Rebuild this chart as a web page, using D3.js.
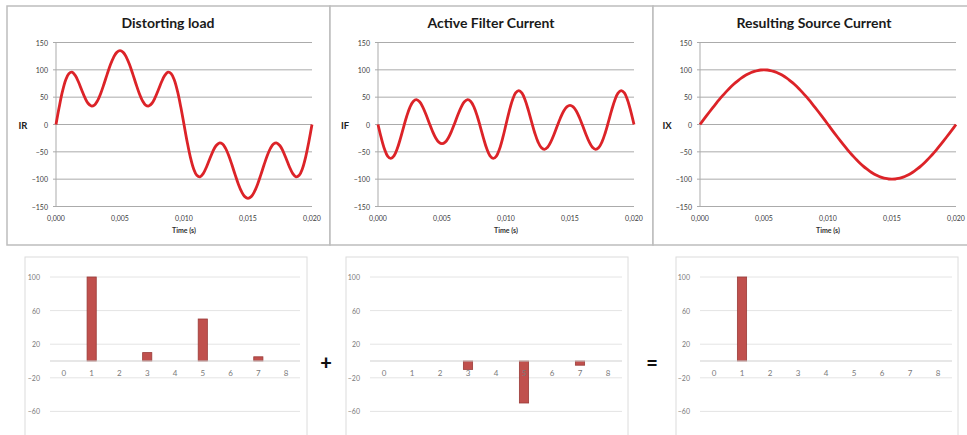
<!DOCTYPE html>
<html>
<head>
<meta charset="utf-8">
<script src="https://cdn.jsdelivr.net/npm/d3@7/dist/d3.min.js"></script>
<style>
  html, body { margin: 0; padding: 0; background: #ffffff; }
  svg { display: block; font-family: Lato, "Open Sans", "DejaVu Sans", sans-serif; }
</style>
</head>
<body>
<svg id="chart" width="967" height="435"></svg>
<script>
// Sample times over one 50 Hz period (s)
const timeSamples = [
  0.00000, 0.00025, 0.00050, 0.00075, 0.00100, 0.00125, 0.00150, 0.00175, 0.00200, 0.00225,
  0.00250, 0.00275, 0.00300, 0.00325, 0.00350, 0.00375, 0.00400, 0.00425, 0.00450, 0.00475,
  0.00500, 0.00525, 0.00550, 0.00575, 0.00600, 0.00625, 0.00650, 0.00675, 0.00700, 0.00725,
  0.00750, 0.00775, 0.00800, 0.00825, 0.00850, 0.00875, 0.00900, 0.00925, 0.00950, 0.00975,
  0.01000, 0.01025, 0.01050, 0.01075, 0.01100, 0.01125, 0.01150, 0.01175, 0.01200, 0.01225,
  0.01250, 0.01275, 0.01300, 0.01325, 0.01350, 0.01375, 0.01400, 0.01425, 0.01450, 0.01475,
  0.01500, 0.01525, 0.01550, 0.01575, 0.01600, 0.01625, 0.01650, 0.01675, 0.01700, 0.01725,
  0.01750, 0.01775, 0.01800, 0.01825, 0.01850, 0.01875, 0.01900, 0.01925, 0.01950, 0.01975,
  0.02000
];

// Load current IR
const loadCurrent = [
  0, 31.93, 59.99, 81.01, 93.04, 95.62, 89.85, 78.11, 63.54, 49.47,
  38.89, 33.90, 35.54, 43.65, 57.12, 74.05, 92.17, 109.16, 122.95, 131.90,
  135.00, 131.90, 122.95, 109.16, 92.17, 74.05, 57.12, 43.65, 35.54, 33.90,
  38.89, 49.47, 63.54, 78.11, 89.85, 95.62, 93.04, 81.01, 59.99, 31.93,
  0, -31.93, -59.99, -81.01, -93.04, -95.62, -89.85, -78.11, -63.54, -49.47,
  -38.89, -33.90, -35.54, -43.65, -57.12, -74.05, -92.17, -109.16, -122.95, -131.90,
  -135.00, -131.90, -122.95, -109.16, -92.17, -74.05, -57.12, -43.65, -35.54, -33.90,
  -38.89, -49.47, -63.54, -78.11, -89.85, -95.62, -93.04, -81.01, -59.99, -31.93,
  0
];

// Active filter current IF
const filterCurrent = [
  0, -24.08, -44.35, -57.67, -62.14, -57.35, -44.45, -25.86, -4.76, 15.47,
  31.82, 42.14, 45.37, 41.61, 31.98, 18.34, 2.94, -11.92, -24.18, -32.21,
  -35.00, -32.21, -24.18, -11.92, 2.94, 18.34, 31.98, 41.61, 45.37, 42.14,
  31.82, 15.47, -4.76, -25.86, -44.45, -57.35, -62.14, -57.67, -44.35, -24.08,
  0, 24.08, 44.35, 57.67, 62.14, 57.35, 44.45, 25.86, 4.76, -15.47,
  -31.82, -42.14, -45.37, -41.61, -31.98, -18.34, -2.94, 11.92, 24.18, 32.21,
  35.00, 32.21, 24.18, 11.92, -2.94, -18.34, -31.98, -41.61, -45.37, -42.14,
  -31.82, -15.47, 4.76, 25.86, 44.45, 57.35, 62.14, 57.67, 44.35, 24.08,
  0
];

// Resulting source current IX
const sourceCurrent = [
  0, 7.85, 15.64, 23.34, 30.90, 38.27, 45.40, 52.25, 58.78, 64.94,
  70.71, 76.04, 80.90, 85.26, 89.10, 92.39, 95.11, 97.24, 98.77, 99.69,
  100.00, 99.69, 98.77, 97.24, 95.11, 92.39, 89.10, 85.26, 80.90, 76.04,
  70.71, 64.94, 58.78, 52.25, 45.40, 38.27, 30.90, 23.34, 15.64, 7.85,
  0, -7.85, -15.64, -23.34, -30.90, -38.27, -45.40, -52.25, -58.78, -64.94,
  -70.71, -76.04, -80.90, -85.26, -89.10, -92.39, -95.11, -97.24, -98.77, -99.69,
  -100.00, -99.69, -98.77, -97.24, -95.11, -92.39, -89.10, -85.26, -80.90, -76.04,
  -70.71, -64.94, -58.78, -52.25, -45.40, -38.27, -30.90, -23.34, -15.64, -7.85,
  0
];

const waveTitles = ["Distorting load", "Active Filter Current", "Resulting Source Current"];
const waveLabels = ["IR", "IF", "IX"];
const timeTicks = [0, 0.005, 0.010, 0.015, 0.020];
const currentTicks = [-150, -100, -50, 0, 50, 100, 150];

// Harmonic spectra (amplitude per harmonic order)
const harmonicOrders = ["0", "1", "2", "3", "4", "5", "6", "7", "8"];
const loadSpectrum   = [0, 100, 0, 10, 0, 50, 0, 5, 0];
const filterSpectrum = [0, 0, 0, -10, 0, -50, 0, -5, 0];
const sourceSpectrum = [0, 100, 0, 0, 0, 0, 0, 0, 0];
const spectrumTicks = [-60, -20, 20, 60, 100];
const operators = ["+", "="];

const svg = d3.select("#chart");
const commaLocale = d3.formatLocale({ decimal: ",", thousands: ".", grouping: [3], currency: ["", ""], minus: "-" });
const fmtTime = commaLocale.format(".3f");

// ---------- top row: waveforms ----------
const waves = [loadCurrent, filterCurrent, sourceCurrent];
const panelLeft = [7, 330, 653];
const panelW = 323;
const plotLeft = [56, 378, 700];
const plotW = 256;
const y = d3.scaleLinear().domain([-150, 150]).range([206.5, 42.5]);

waves.forEach((vals, i) => {
  const g = svg.append("g");
  g.append("rect")
    .attr("x", panelLeft[i]).attr("y", 6)
    .attr("width", panelW).attr("height", 239)
    .attr("fill", "#ffffff").attr("stroke", "#bdbdbd").attr("stroke-width", 1.5);

  const x = d3.scaleLinear().domain([0, 0.02]).range([plotLeft[i], plotLeft[i] + plotW]);

  // horizontal gridlines with short left ticks
  g.selectAll("line.grid").data(currentTicks).join("line")
    .attr("x1", plotLeft[i] - 3).attr("x2", plotLeft[i] + plotW)
    .attr("y1", d => y(d)).attr("y2", d => y(d))
    .attr("stroke", "#ababab").attr("stroke-width", 1);
  // vertical axis line
  g.append("line")
    .attr("x1", plotLeft[i]).attr("x2", plotLeft[i])
    .attr("y1", y(150)).attr("y2", y(-150))
    .attr("stroke", "#ababab").attr("stroke-width", 1);

  g.selectAll("text.ytick").data(currentTicks).join("text")
    .attr("x", plotLeft[i] - 8).attr("y", d => y(d))
    .attr("text-anchor", "end").attr("dominant-baseline", "central")
    .attr("font-size", 7).attr("fill", "#404040")
    .text(d => d3.format("d")(d));

  g.selectAll("text.xtick").data(timeTicks).join("text")
    .attr("x", d => x(d)).attr("y", 218)
    .attr("text-anchor", "middle").attr("dominant-baseline", "central")
    .attr("font-size", 7).attr("fill", "#404040")
    .text(d => fmtTime(d));

  g.append("text")
    .attr("x", plotLeft[i] + plotW / 2).attr("y", 230)
    .attr("text-anchor", "middle").attr("dominant-baseline", "central")
    .attr("font-size", 7).attr("font-weight", "bold").attr("fill", "#303030")
    .text("Time (s)");

  g.append("text")
    .attr("x", plotLeft[i] - 33).attr("y", y(0) + 1)
    .attr("text-anchor", "middle").attr("dominant-baseline", "central")
    .attr("font-size", 9.5).attr("font-weight", "bold").attr("fill", "#202020")
    .text(waveLabels[i]);

  g.append("text")
    .attr("x", panelLeft[i] + panelW / 2 - 0.5).attr("y", 28)
    .attr("text-anchor", "middle")
    .attr("font-size", 14).attr("font-weight", "bold").attr("fill", "#1a1a1a")
    .text(waveTitles[i]);

  const line = d3.line()
    .x((d, k) => x(timeSamples[k]))
    .y(d => y(d))
    .curve(d3.curveCatmullRom.alpha(0.5));
  g.append("path")
    .attr("d", line(vals))
    .attr("fill", "none").attr("stroke", "#dc2328").attr("stroke-width", 2.8)
    .attr("stroke-linejoin", "round");
});

// ---------- bottom row: harmonic spectra ----------
const spectra = [loadSpectrum, filterSpectrum, sourceSpectrum];
const frameLeft = [25, 346, 676];
const frameW = 282;
const gridRange = [[50, 300], [370, 622], [700, 952]];
const yb = d3.scaleLinear().domain([-100, 100]).range([445, 277]);

spectra.forEach((vals, i) => {
  const g = svg.append("g");
  g.append("rect")
    .attr("x", frameLeft[i]).attr("y", 257)
    .attr("width", frameW).attr("height", 200)
    .attr("fill", "#ffffff").attr("stroke", "#dcdcdc").attr("stroke-width", 1);

  const xb = d3.scaleBand().domain(harmonicOrders).range(gridRange[i])
    .paddingInner(0.67).paddingOuter(0.335);

  g.selectAll("line.grid").data(spectrumTicks).join("line")
    .attr("x1", gridRange[i][0]).attr("x2", gridRange[i][1])
    .attr("y1", d => yb(d)).attr("y2", d => yb(d))
    .attr("stroke", "#e4e4e4").attr("stroke-width", 1);

  g.selectAll("text.ytick").data(spectrumTicks).join("text")
    .attr("x", gridRange[i][0] - 10).attr("y", d => yb(d))
    .attr("text-anchor", "end").attr("dominant-baseline", "central")
    .attr("font-size", 7).attr("fill", "#7a7a7a")
    .text(d => d3.format("d")(d));

  g.selectAll("rect.bar").data(vals).join("rect")
    .attr("x", (d, k) => xb(harmonicOrders[k]))
    .attr("width", xb.bandwidth())
    .attr("y", d => yb(Math.max(0, d)))
    .attr("height", d => Math.abs(yb(d) - yb(0)))
    .attr("fill", "#c0504d").attr("stroke", "#9a3b38").attr("stroke-width", 0.8);

  // zero axis
  g.append("line")
    .attr("x1", gridRange[i][0]).attr("x2", gridRange[i][1])
    .attr("y1", yb(0)).attr("y2", yb(0))
    .attr("stroke", "#cfcfcf").attr("stroke-width", 1);

  g.selectAll("text.cat").data(harmonicOrders).join("text")
    .attr("x", d => xb(d) + xb.bandwidth() / 2).attr("y", 373)
    .attr("text-anchor", "middle").attr("dominant-baseline", "central")
    .attr("font-size", 8).attr("fill", "#7a7a7a")
    .text(d => d);
});

// operators between the spectra
svg.selectAll("text.op").data(operators).join("text")
  .attr("x", (d, i) => [326, 652][i]).attr("y", 362)
  .attr("text-anchor", "middle").attr("dominant-baseline", "central")
  .attr("font-size", 20).attr("font-weight", 900).attr("fill", "#111111")
  .text(d => d);
</script>
</body>
</html>
